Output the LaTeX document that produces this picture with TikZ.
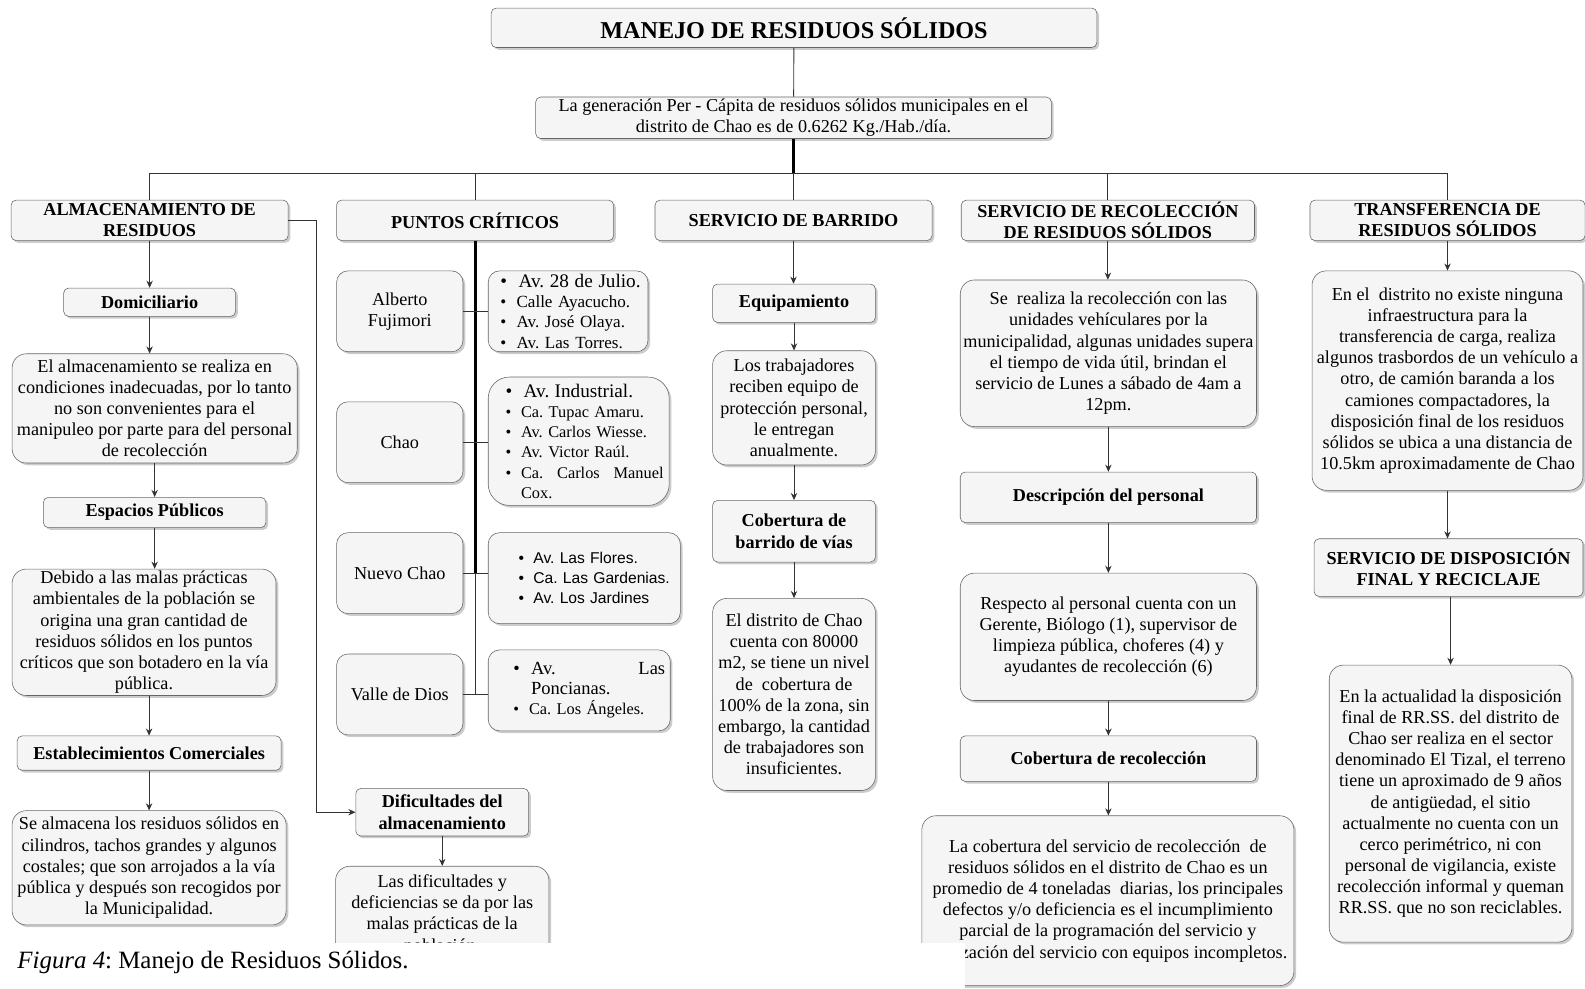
\documentclass[tikz,border=0pt]{standalone}
\usepackage{fontspec}
\setmainfont{Liberation Serif}
\newfontfamily\arialfont{Liberation Sans}
\usepackage{xcolor}
\usetikzlibrary{arrows.meta,shadows}

\newcommand{\bul}{\textbullet\hspace{0.6em}}
\newcommand{\nobul}{\phantom{\textbullet}\hspace{0.6em}}

\begin{document}
\frenchspacing
\begin{tikzpicture}[>={Stealth[length=5pt,width=4.5pt]},x=0.025cm,y=-0.025cm,
  box/.style={draw=black!60,fill=black!4,rounded corners=3.5pt,inner sep=0pt,align=center,
    drop shadow={shadow xshift=1.6pt,shadow yshift=-1.6pt,fill=black!40},
    font=\fontsize{12.8}{14.9}\selectfont},
  hdr/.style={box,font=\fontsize{12.8}{14.9}\selectfont\bfseries},
  txt/.style={box,rounded corners=10pt},
  lst/.style={box,rounded corners=8pt,align=left},
  line/.style={draw=black!80,line width=0.6pt},
  trunk/.style={draw=black,line width=2pt}]
\useasboundingbox (0,0) rectangle (1568,978);

% cabecera
\node[hdr,font=\fontsize{17}{19}\selectfont\bfseries,minimum width=14.975cm,minimum height=0.975cm] (title) at (785.5,27.5) {MANEJO DE RESIDUOS SÓLIDOS};
\node[box,minimum width=12.75cm,minimum height=1.025cm] (gen) at (785,116.5) {La generación Per - Cápita de residuos sólidos municipales en el\\distrito de Chao es de 0.6262 Kg./Hab./día.};
\coordinate (bus) at (785,172);

\node[hdr,minimum width=6.85cm,minimum height=1cm] (alm) at (148,218) {ALMACENAMIENTO DE\\RESIDUOS};
\node[hdr,minimum width=6.85cm,minimum height=1cm] (pts) at (470,218) {PUNTOS CRÍTICOS};
\node[hdr,minimum width=6.85cm,minimum height=1cm] (bar) at (785,218) {SERVICIO DE BARRIDO};
\node[hdr,minimum width=7.25cm,minimum height=1cm] (rec) at (1096,218) {SERVICIO DE RECOLECCIÓN\\DE RESIDUOS SÓLIDOS};
\node[hdr,minimum width=6.8cm,minimum height=1cm] (tra) at (1432,218) {TRANSFERENCIA DE\\RESIDUOS SÓLIDOS};

% almacenamiento
\node[hdr,minimum width=4.25cm,minimum height=0.7cm] (dom) at (148,299) {Domiciliario};
\node[txt,minimum width=7.05cm,minimum height=2.7cm] (almA) at (153,404) {El almacenamiento se realiza en\\condiciones inadecuadas, por lo tanto\\no son convenientes para el\\manipuleo por parte para del personal\\de recolección};
\node[hdr,minimum width=5.5cm,minimum height=0.75cm] (esp) at (153,507) {Espacios Públicos};
\node[txt,minimum width=6.525cm,minimum height=3.125cm] (almB) at (142.5,625.5) {Debido a las malas prácticas\\ambientales de la población se\\origina una gran cantidad de\\residuos sólidos en los puntos\\críticos que son botadero en la vía\\pública.};
\node[hdr,minimum width=6.525cm,minimum height=0.85cm] (est) at (147.5,745) {Establecimientos Comerciales};
\node[txt,minimum width=6.775cm,minimum height=2.825cm] (almC) at (147.5,858.5) {Se almacena los residuos sólidos en\\cilindros, tachos grandes y algunos\\costales; que son arrojados a la vía\\pública y después son recogidos por\\la Municipalidad.};
\node[hdr,minimum width=4.275cm,minimum height=1.175cm] (dif) at (437.5,803.5) {Dificultades del\\almacenamiento};
\node[txt,minimum width=5.275cm,minimum height=2.4cm] (difA) at (437.5,905) {Las dificultades y\\deficiencias se da por las\\malas prácticas de la\\población.};

% puntos criticos
\node[txt,rounded corners=8pt,minimum width=3.125cm,minimum height=2cm] (af) at (395.5,308) {Alberto\\Fujimori};
\node[txt,rounded corners=8pt,minimum width=3.125cm,minimum height=2cm] (ch) at (395.5,437.5) {Chao};
\node[txt,rounded corners=8pt,minimum width=3.125cm,minimum height=2cm] (nc) at (395.5,567) {Nuevo Chao};
\node[txt,rounded corners=8pt,minimum width=3.125cm,minimum height=2cm] (vd) at (395.5,687) {Valle de Dios};
\node[lst,text width=3.95cm,minimum width=3.95cm,minimum height=2cm,font=\fontsize{12}{14.2}\selectfont] (la) at (562,308)
  {\leftskip=0.3cm\mbox{\fontsize{13.5}{15}\selectfont\bul Av. 28 de Julio.}\\\bul Calle Ayacucho.\\\bul Av. José Olaya.\\\bul Av. Las Torres.\par};
\node[lst,rounded corners=15pt,text width=4.2cm,minimum width=4.475cm,minimum height=3.175cm,font=\fontsize{11.5}{14.2}\selectfont] (lb) at (572.5,436.5)
  {\leftskip=0.29cm{\fontsize{13.5}{15}\selectfont\bul Av. Industrial.}\\\bul Ca. Tupac Amaru.\\\bul Av. Carlos Wiesse.\\\bul Av. Victor Raúl.\\\bul Ca.\hfill Carlos\hfill Manuel\\\nobul Cox.\par};
\node[lst,text width=4.6cm,minimum width=4.75cm,minimum height=2.25cm,font=\arialfont\fontsize{11}{14.2}\selectfont] (lc) at (578,572)
  {\leftskip=0.675cm\bul Av. Las Flores.\\\bul Ca. Las Gardenias.\\\bul Av. Los Jardines\par};
\node[lst,text width=4.25cm,minimum width=4.5cm,minimum height=2cm,font=\fontsize{11.5}{14.2}\selectfont] (ld) at (573,683)
  {\leftskip=0.5cm{\fontsize{13}{15}\selectfont\bul Av.\hfill Las}\\{\fontsize{13}{15}\selectfont\nobul Poncianas.}\\\bul Ca. Los Ángeles.\par};

% barrido
\node[hdr,minimum width=4.025cm,minimum height=0.95cm] (eq) at (785.5,300) {Equipamiento};
\node[txt,minimum width=4.025cm,minimum height=2.825cm] (barA) at (785.5,403.5) {Los trabajadores\\reciben equipo de\\protección personal,\\le entregan\\anualmente.};
\node[hdr,minimum width=4.025cm,minimum height=1.525cm] (cob) at (785.5,525.5) {Cobertura de\\barrido de vías};
\node[txt,minimum width=4.025cm,minimum height=4.75cm] (barB) at (785.5,687) {El distrito de Chao\\cuenta con 80000\\m2, se tiene un nivel\\de\ \ cobertura de\\100\% de la zona, sin\\embargo, la cantidad\\de trabajadores son\\insuficientes.};

% recoleccion
\node[txt,minimum width=7.325cm,minimum height=3.625cm] (recA) at (1096.5,349.5) {Se\ \ realiza la recolección con las\\unidades vehículares por la\\municipalidad, algunas unidades supera\\el tiempo de vida útil, brindan el\\servicio de Lunes a sábado de 4am a\\12pm.};
\node[hdr,minimum width=7.325cm,minimum height=1.25cm] (des) at (1096.5,492) {Descripción del personal};
\node[txt,minimum width=7.325cm,minimum height=3.15cm] (recB) at (1096.5,630) {Respecto al personal cuenta con un\\Gerente, Biólogo (1), supervisor de\\limpieza pública, choferes (4) y\\ayudantes de recolección (6)};
\node[hdr,minimum width=7.325cm,minimum height=1.125cm] (cor) at (1096.5,750.5) {Cobertura de recolección};
\node[txt,minimum width=9.2cm,minimum height=4.2cm] (recC) at (1096,891) {La cobertura del servicio de recolección\ \ de\\residuos sólidos en el distrito de Chao es un\\promedio de 4 toneladas\ \ diarias, los principales\\defectos y/o deficiencia es el incumplimiento\\parcial de la programación del servicio y\\realización del servicio con equipos incompletos.};

% transferencia
\node[txt,minimum width=6.7cm,minimum height=5.425cm] (traA) at (1432,376.5) {En el\ \ distrito no existe ninguna\\infraestructura para la\\transferencia de carga, realiza\\algunos trasbordos de un vehículo a\\otro, de camión baranda a los\\camiones compactadores, la\\disposición final de los residuos\\sólidos se ubica a una distancia de\\10.5km aproximadamente de Chao};
\node[hdr,minimum width=6.65cm,minimum height=1.425cm] (dis) at (1433,561.5) {SERVICIO DE DISPOSICIÓN\\FINAL Y RECICLAJE};
\node[txt,minimum width=6cm,minimum height=6.85cm] (traB) at (1435,795) {En la actualidad la disposición\\final de RR.SS. del distrito de\\Chao ser realiza en el sector\\denominado El Tizal, el terreno\\tiene un aproximado de 9 años\\de antigüedad, el sitio\\actualmente no cuenta con un\\cerco perimétrico, ni con\\personal de vigilancia, existe\\recolección informal y queman\\RR.SS. que no son reciclables.};

% conectores
\draw[line] (title) -- (gen);
\draw[trunk] (gen.south) -- (gen.south |- bus);
\draw[line] (alm.north) |- (bus) -| (tra.north);
\draw[line] (pts.north) -- (pts.north |- bus);
\draw[line] (bar.north) -- (bar.north |- bus);
\draw[line] (rec.north) -- (rec.north |- bus);

\draw[line,->] (alm.south) -- (alm.south |- dom.north);
\draw[line,->] (dom.south) -- (dom.south |- almA.north);
\draw[line,->] (almA.south) -- (almA.south |- esp.north);
\draw[line,->] (esp.south) -- (esp.south |- almB.north);
\draw[line,->] (est.north |- almB.south) -- (est.north);
\draw[line,->] (est.south) -- (est.south |- almC.north);
\draw[line,->] (alm.east) -- ++(28,0) |- (dif.west);
\draw[line,->] (dif.south) -- (dif.south |- difA.north);

\draw[trunk] (pts.south) -- (pts.south |- nc.east);
\draw[line] (pts.south |- nc.east) -- (pts.south |- vd.east);
\draw[line] (af.east) -- (af.east -| la.west);
\draw[line] (ch.east) -- (ch.east -| lb.west);
\draw[line] (nc.east) -- (nc.east -| lc.west);
\draw[line] (vd.east) -- (vd.east -| ld.west);

\draw[line,->] (bar.south) -- (bar.south |- eq.north);
\draw[line,->] (eq.south) -- (eq.south |- barA.north);
\draw[line,->] (barA.south) -- (barA.south |- cob.north);
\draw[line,->] (cob.south) -- (cob.south |- barB.north);

\draw[line,->] (rec.south) -- (rec.south |- recA.north);
\draw[line,->] (recA.south) -- (recA.south |- des.north);
\draw[line,->] (des.south) -- (des.south |- recB.north);
\draw[line,->] (recB.south) -- (recB.south |- cor.north);
\draw[line,->] (cor.south) -- (cor.south |- recC.north);

\draw[line,->] (traA.north |- tra.south) -- (traA.north);
\draw[line,->] (traA.south) -- (traA.south |- dis.north);
\draw[line,->] (traB.north |- dis.south) -- (traB.north);

% pie de figura
\fill[white] (0,933) rectangle (955,978);
\node[anchor=west,inner sep=0pt,font=\fontsize{17.5}{20}\selectfont] (cap) at (17,952) {\textit{Figura 4}: Manejo de Residuos Sólidos.};
\end{tikzpicture}
\end{document}
